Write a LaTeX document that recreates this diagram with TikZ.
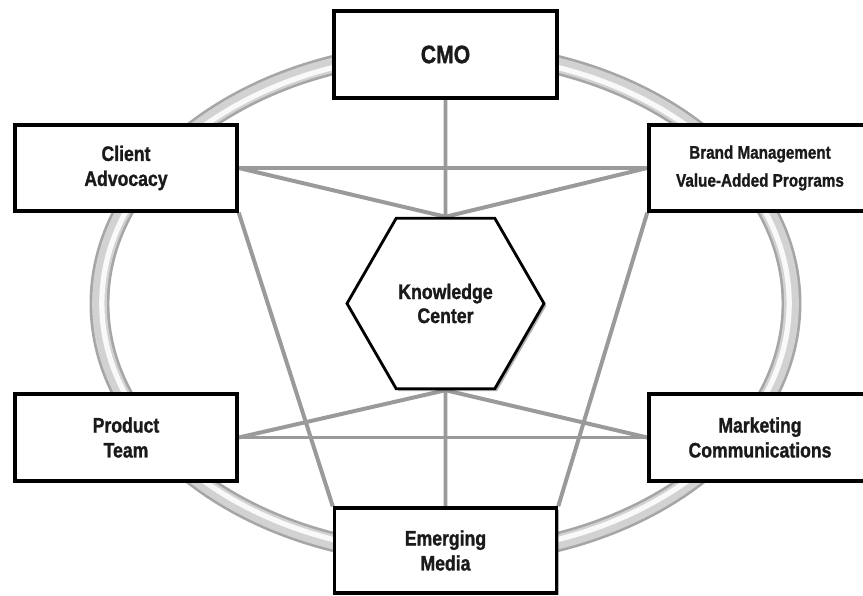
\documentclass[tikz,border=0pt]{standalone}
\usepackage{fontspec}
\setmainfont{Liberation Sans}[FakeStretch=0.84, BoldFeatures={FakeBold=1.2}]
\usepackage{tikz}
\usetikzlibrary{shapes,shadows,backgrounds}

\definecolor{linkgray}{HTML}{9A9A9A}
\definecolor{txtdark}{HTML}{1A1A1A}

\tikzset{
	unitbox/.style={draw=black, line width=3pt, fill=white, align=center, text=txtdark,
		minimum width=6.66cm, minimum height=2.58cm, inner sep=0pt,
		drop shadow={shadow xshift=2pt, shadow yshift=-2pt, opacity=0.3, fill=black},
		font=\bfseries\fontsize{17.9}{21.3}\selectfont},
	hubhex/.style={regular polygon, regular polygon sides=6, draw=black, line width=2.4pt,
		fill=white, align=center, text=txtdark, minimum size=5.91cm, inner sep=0pt,
		drop shadow={shadow xshift=2pt, shadow yshift=-2pt, opacity=0.3, fill=black},
		font=\bfseries\fontsize{18}{20.5}\selectfont},
	link/.style={linkgray, line width=3.4pt}
}

\begin{document}
\begin{tikzpicture}
			\useasboundingbox (-13.365,-8.775) rectangle (12.525,9.105);
			% units round the ring
			\node[unitbox, minimum width=6.69cm, minimum height=2.61cm,
				font=\bfseries\fontsize{21.5}{25}\selectfont] (cmo) at (0,7.47) {CMO};
			\node[unitbox] (client) at (-9.585,4.065) {Client\\Advocacy};
			\node[unitbox, font=\bfseries\fontsize{15.5}{23.9}\selectfont] (brand) at (9.435,4.065) {Brand Management\\Value-Added Programs};
			\node[unitbox, minimum height=2.61cm] (product) at (-9.585,-4.02) {Product\\Team};
			\node[unitbox, minimum height=2.61cm] (marcom) at (9.435,-4.02) {Marketing\\Communications};
			\node[unitbox, minimum height=2.55cm] (emerging) at (0,-7.41) {Emerging\\Media};
			% hub
			\node[hubhex] (knowledge) at (0,0) {Knowledge\\Center};
			\begin{scope}[on background layer]
				% ring
				\draw[gray!70, line width=17pt] (0,0) ellipse (10.38 and 7.56);
				\draw[gray!35, line width=12.5pt] (0,0) ellipse (10.38 and 7.56);
				\draw[gray!5, line width=4.5pt] (0,0) ellipse (10.31 and 7.49);
				% links
				\draw[link] (client.east) -- (brand.west);
				\draw[link] (product.east) -- (marcom.west);
				\draw[link] (cmo.south) -- (knowledge.north);
				\draw[link] (emerging.north) -- (knowledge.south);
				\draw[link] (client.east) -- (knowledge.north);
				\draw[link] (brand.west) -- (knowledge.north);
				\draw[link] (product.east) -- (knowledge.south);
				\draw[link] (marcom.west) -- (knowledge.south);
				\draw[link] (client.south east) -- (emerging.north west);
				\draw[link] (brand.south west) -- (emerging.north east);
			\end{scope}
		\end{tikzpicture}
\end{document}
